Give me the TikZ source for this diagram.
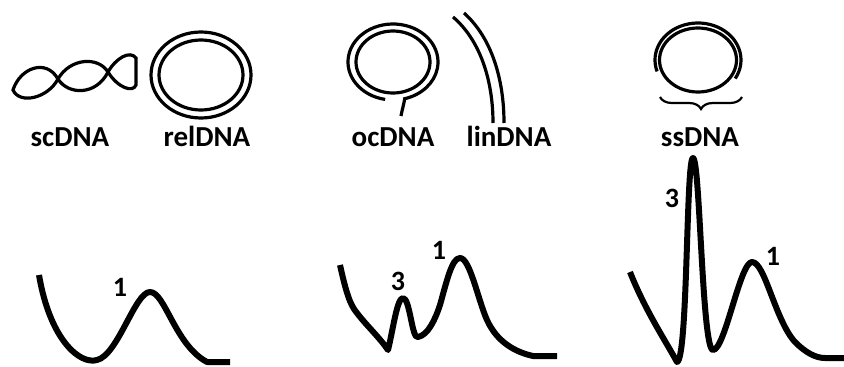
\documentclass[tikz,border=0pt]{standalone}
\usepackage{fontspec}
\setmainfont{Carlito}
\usepackage{tikz}
\usetikzlibrary{decorations.pathreplacing,positioning}

\begin{document}
\begin{tikzpicture}[x=1pt,y=-1pt,
		strand/.style={line width=3.2pt},
		trace/.style={line width=6pt,line join=round},
		lbl/.style={anchor=base,font=\fontsize{29}{34}\selectfont\bfseries},
		pk/.style={font=\fontsize{28}{32}\selectfont\bfseries}]

	\useasboundingbox (0,0) rectangle (844,367);

	% supercoiled
	\draw[strand] (13,90) .. controls (20,68) and (46,58) .. (58,79)
		.. controls (68,95) and (96,96) .. (108,72)
		.. controls (116,58) and (130,50) .. (136,58) -- (136,85)
		.. controls (133,93) and (118,88) .. (108,72)
		.. controls (98,56) and (70,58) .. (58,79)
		.. controls (48,98) and (20,105) .. cycle;
	\node[lbl] (sc) at (70,146) {scDNA};

	% relaxed
	\draw[strand] (201,75) ellipse [x radius=50,y radius=43];
	\draw[strand] (201,75) ellipse [x radius=42,y radius=35];
	\node[lbl] (rel) at (207,146) {relDNA};

	% open circle with nick
	\draw[strand] (393,62) ellipse [x radius=37,y radius=31];
	\draw[strand] (393,62) ++(100:45 and 38) arc [start angle=100,end angle=435,x radius=45,y radius=38]
		.. controls (404,104) and (402,110) .. (401,116);
	\node[lbl] (oc) at (393,146) {ocDNA};

	% linear
	\draw[strand] (453,17) .. controls (480,40) and (493,80) .. (493,123);
	\draw[strand] (464,13) .. controls (492,38) and (504,80) .. (504,123);
	\node[lbl] (lin) at (509,146) {linDNA};

	% single stranded
	\draw[strand] (698,60) ellipse [x radius=38.5,y radius=32];
	\draw[strand] (698,60) ++(162:43 and 37) arc [start angle=162,end angle=390,x radius=43,y radius=37];
	\draw[line width=2.2pt,decorate,decoration={brace,mirror,amplitude=12pt}] (660,97) -- (742,97);
	\node[lbl] (ss) at (700,146) {ssDNA};

	% traces
	\draw[trace] (39,275) .. controls (50,340) and (80,365) .. (97,360)
		.. controls (118,355) and (135,292) .. (150,292)
		.. controls (165,292) and (175,345) .. (207,362) -- (230,362);
	\node[pk] (a1) at (120,287) {1};

	\draw[trace] (340,265) .. controls (346,292) and (350,305) .. (357,313)
		.. controls (366,325) and (380,338) .. (388,350)
		.. controls (393,330) and (397,298) .. (403,298)
		.. controls (410,298) and (412,340) .. (418,337)
		.. controls (428,335) and (435,320) .. (440,305)
		.. controls (447,280) and (452,258) .. (460,258)
		.. controls (470,258) and (478,300) .. (487,320)
		.. controls (497,342) and (515,352) .. (533,356) -- (557,356);
	\node[pk] (b3) at (398,281) {3};
	\node[pk] (b1) at (439,250) {1};

	\draw[trace] (630,272) .. controls (645,310) and (665,340) .. (677,362)
		.. controls (688,360) and (686,158) .. (693,158)
		.. controls (700,158) and (702,350) .. (713,350)
		.. controls (725,350) and (740,262) .. (752,262)
		.. controls (765,262) and (775,320) .. (795,342)
		.. controls (805,352) and (815,358) .. (825,358) -- (844,358);
	\node[pk] (c3) at (672,198) {3};
	\node[pk] (c1) at (773,256) {1};
\end{tikzpicture}
\end{document}
